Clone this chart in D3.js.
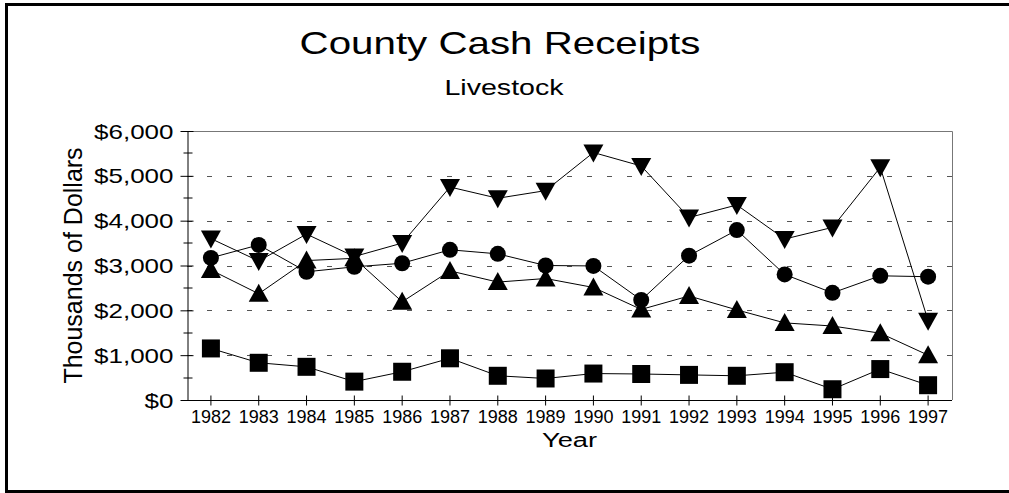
<!DOCTYPE html>
<html>
<head>
<meta charset="utf-8">
<script src="https://d3js.org/d3.v7.min.js"></script>
<style>
    body { margin: 0; background: #fff; }
    text { font-family: "Liberation Sans", Arial, sans-serif; fill: #000; }
</style>
</head>
<body>
<script>
    // data (thousands of dollars)
    var years = ["1982", "1983", "1984", "1985", "1986", "1987", "1988", "1989",
                 "1990", "1991", "1992", "1993", "1994", "1995", "1996", "1997"];
    var triDownValues = [3600, 3100, 3700, 3200, 3500, 4750, 4500, 4670,
                         5520, 5220, 4070, 4350, 3590, 3850, 5190, 1770];
    var circleValues = [3170, 3460, 2860, 2970, 3050, 3350, 3260, 3000,
                        2990, 2230, 3220, 3790, 2800, 2390, 2770, 2750];
    var triUpValues = [2900, 2370, 3110, 3160, 2190, 2880, 2630, 2710,
                       2510, 2020, 2320, 2010, 1720, 1650, 1490, 1000];
    var squareValues = [1150, 830, 740, 410, 630, 930, 540, 480,
                        590, 580, 560, 540, 620, 240, 690, 330];
    var yTicks = [0, 1000, 2000, 3000, 4000, 5000, 6000];
    var yMinorTicks = [500, 1500, 2500, 3500, 4500, 5500];

    function draw() {
        var width = 1009, height = 493;
        var pLeft = 187, pRight = 952, pTop = 131, pBottom = 400;

        var svg = d3.select("body").append("svg")
            .attr("width", width)
            .attr("height", height);

        svg.append("rect").attr("width", width).attr("height", height).attr("fill", "#fff");

        // outer frame (right edge runs off the page)
        svg.append("rect")
            .attr("x", 6.5).attr("y", 4.5)
            .attr("width", 1100).attr("height", 487)
            .attr("fill", "none").attr("stroke", "#000").attr("stroke-width", 3);

        var x = d3.scaleBand().domain(years).range([pLeft, pRight]).padding(0);
        var y = d3.scaleLinear().domain([0, 6000]).range([pBottom, pTop]);
        var cx = function (d, i) { return x(years[i]) + x.bandwidth() / 2; };
        var ry = function (d) { return Math.round(y(d)) + 0.5; };

        // dashed grid
        svg.append("g").selectAll("line")
            .data([1000, 2000, 3000, 4000, 5000])
            .enter().append("line")
            .attr("x1", pLeft).attr("x2", pRight)
            .attr("y1", ry).attr("y2", ry)
            .attr("stroke", "#555").attr("stroke-dasharray", "5,15");

        // plot frame top/right
        svg.append("path")
            .attr("d", "M" + pLeft + "," + ry(6000) + "H" + (pRight + 0.5) + "V" + pBottom)
            .attr("fill", "none").attr("stroke", "#777");

        // y axis
        var yAxis = d3.axisLeft(y).tickValues(yTicks).tickSizeInner(7).tickSizeOuter(0)
            .tickFormat(function (d) { return "$" + d3.format(",")(d); });
        var gy = svg.append("g")
            .attr("transform", "translate(" + (pLeft + 0.5) + ",0)")
            .call(yAxis);
        gy.attr("font-family", null).attr("font-size", null);
        gy.selectAll(".tick line").attr("x2", -7).attr("x1", 6);
        gy.selectAll(".tick text")
            .attr("x", null).attr("dy", null)
            .attr("transform", "translate(-14,7) scale(1.3,1)")
            .style("font-size", "20px");
        gy.append("g").selectAll("line")
            .data(yMinorTicks)
            .enter().append("line")
            .attr("x1", -4).attr("x2", 5)
            .attr("y1", function (d) { return ry(d) - 0.5; })
            .attr("y2", function (d) { return ry(d) - 0.5; })
            .attr("stroke", "#000");

        // x axis
        var xAxis = d3.axisBottom(x).tickSizeInner(5).tickSizeOuter(0);
        var gx = svg.append("g")
            .attr("transform", "translate(0," + (pBottom + 0.5) + ")")
            .call(xAxis);
        gx.attr("font-family", null).attr("font-size", null);
        gx.selectAll(".tick line").attr("y1", -5).attr("y2", 5);
        gx.selectAll(".tick text")
            .attr("y", 22).attr("dy", null)
            .style("font-size", "18px");
        svg.selectAll(".domain").attr("stroke", "#000");
        svg.selectAll("g.tick text").attr("fill", "#000");
        gx.select(".domain").attr("d", "M" + (pLeft - 3) + ",0H" + pRight);

        // series
        var line = d3.line()
            .x(cx)
            .y(function (d) { return y(d); });

        var series = [
            { values: squareValues, shape: "square" },
            { values: triUpValues, shape: "up" },
            { values: circleValues, shape: "circle" },
            { values: triDownValues, shape: "down" }
        ];

        var symbols = {
            square: "M-9,-9H9V9H-9Z",
            up: "M0,-10L10,8H-10Z",
            down: "M0,10L10,-8H-10Z"
        };

        series.forEach(function (s) {
            svg.append("path")
                .datum(s.values)
                .attr("d", line)
                .attr("fill", "none")
                .attr("stroke", "#000")
                .attr("stroke-width", 1);
        });

        series.forEach(function (s) {
            var g = svg.append("g");
            if (s.shape === "circle") {
                g.selectAll("circle").data(s.values).enter().append("circle")
                    .attr("cx", cx)
                    .attr("cy", function (d) { return y(d); })
                    .attr("r", 8)
                    .attr("fill", "#000");
            } else {
                g.selectAll("path").data(s.values).enter().append("path")
                    .attr("d", symbols[s.shape])
                    .attr("transform", function (d, i) {
                        return "translate(" + cx(d, i) + "," + y(d) + ")";
                    })
                    .attr("fill", "#000");
            }
        });

        // titles
        svg.append("text")
            .attr("transform", "translate(500,54) scale(1.3,1)")
            .attr("text-anchor", "middle")
            .style("font-size", "31px")
            .text("County Cash Receipts");
        svg.append("text")
            .attr("transform", "translate(504,95) scale(1.3,1)")
            .attr("text-anchor", "middle")
            .style("font-size", "22px")
            .text("Livestock");
        svg.append("text")
            .attr("transform", "translate(" + ((pLeft + pRight) / 2) + ",447) scale(1.3,1)")
            .attr("text-anchor", "middle")
            .style("font-size", "21px")
            .text("Year");
        svg.append("text")
            .attr("transform", "translate(82," + ((pTop + pBottom) / 2) + ") rotate(-90)")
            .attr("text-anchor", "middle")
            .style("font-size", "25px")
            .text("Thousands of Dollars");
    }

    draw();
</script>
</body>
</html>
